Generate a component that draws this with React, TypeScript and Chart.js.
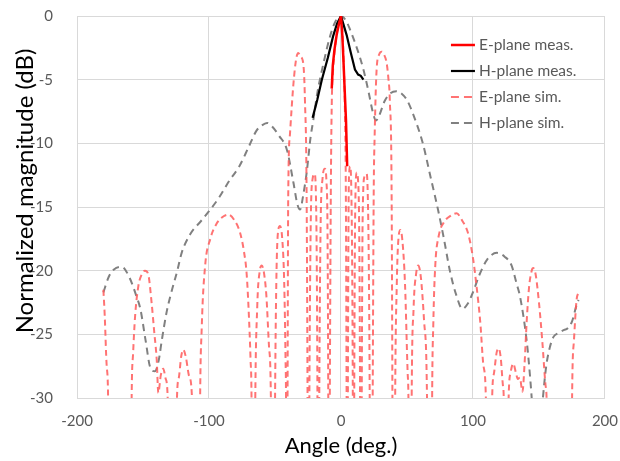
import React, { useEffect, useRef } from "react";
import { Chart, registerables } from "chart.js";

Chart.register(...registerables);

// Axis settings
const xMin = -200;
const xMax = 200;
const xStep = 100;
const yMin = -30;
const yMax = 0;
const yStep = 5;
const xTitle = "Angle (deg.)";
const yTitle = "Normalized magnitude (dB)";

const seriesLabels = ["E-plane meas.", "H-plane meas.", "E-plane sim.", "H-plane sim."];

// E-plane measured
const eMeasAngle = [-7, -6.2, -5, -3.3, -1.5, 0, 1, 1.8, 2.8, 3.8, 4.7];
const eMeasDb = [-5.7, -3.9, -2.7, -1.5, -0.6, 0, -1.5, -3.3, -5.8, -8.2, -11.8];

// H-plane measured
const hMeasAngle = [-21.5, -18, -14.5, -10, -6, -3, 0, 2, 4.3, 7.5, 10.6, 13, 15, 17];
const hMeasDb = [-8, -6.6, -5, -3.3, -1.6, -0.6, 0, -0.7, -1.5, -2.9, -4.2, -4.6, -4.7, -5];

// E-plane simulated
const eSimAngle = [
  -180, -179, -177.5, -176.3, -175.8,
  -159.3, -158.7, -157.5, -156, -153.5, -151, -148.5, -146, -143.4, -141.5, -139.6, -138.4, -136.5, -134.6, -132.8, -131, -130.4,
  -125, -124.5, -123, -121, -119.5, -117.5, -115, -112.5, -111.8,
  -107.5, -106.8, -105.5, -103, -99, -94.2, -90, -85.4, -81, -76.5, -73.5, -71.5, -70, -68.5, -67.7, -67.2,
  -65.7, -65, -63.5, -61.5, -60, -58.3, -56.5, -54.5, -53, -52.5,
  -50.7, -50, -49, -47.5, -46.2, -44.5, -43, -42, -41.6, -41.3,
  -41, -40.5, -40, -38.6, -36, -34, -32.4, -30.5, -28.5, -27.3, -26, -25.3, -24.9,
  -24.5, -24, -23, -21.5, -20, -19, -18.3, -17.8, -17.4,
  -17, -16.5, -15.5, -14, -12.2, -11, -10.2, -9.6, -9.3,
  -9, -8.5, -7.7, -7, -6, -4.5, -3, -1.5, 0, 1, 2, 3, 3.7, 4.3, 4.7,
  4.9, 5.2, 5.7, 6.3, 7, 7.8, 8.5, 9, 9.3,
  9.6, 10, 10.7, 11.9, 13, 13.9, 14.5, 14.9,
  15.3, 15.7, 16.4, 17.8, 19.5, 20.5, 21.3, 21.8, 22.2,
  23.5, 24, 24.8, 25.5, 27, 29, 30.8, 32.5, 34.6, 36, 37, 38.4, 39, 39.4,
  40.5, 41, 42.3, 43.7, 45, 46.5, 48.5, 50.5, 51.2, 51.7,
  53, 53.5, 55, 57, 58.5, 60.5, 63, 65.3, 66,
  68.5, 69, 70, 71.5, 74, 78, 83, 87.6, 92, 96.4, 100, 102.8, 105.5, 108, 110, 110.7,
  113.5, 114.3, 116, 118, 119.5, 121, 122.7, 123.5, 124,
  126, 126.8, 128.5, 130.5, 132.5, 134, 135.5, 137.5, 139, 140.7, 142.5, 144.5, 145.7, 147.5, 150, 152.5, 155, 156, 156.8,
  174.5, 175, 176.5, 178.5, 180,
];
const eSimDb = [
  -21.5, -23.5, -27.5, -31, -45,
  -45, -31, -26.5, -23.6, -21.2, -20.3, -20, -20.3, -22.6, -24.8, -27, -29.6, -28.2, -27.7, -28.5, -31, -45,
  -45, -31, -28.5, -26.7, -26.2, -26.8, -28.3, -31, -45,
  -45, -31, -24.5, -19.7, -17.5, -16.3, -15.8, -15.6, -16, -17, -18.5, -20.2, -23, -27, -31, -45,
  -45, -31, -23, -20, -19.6, -20.2, -22, -26, -31, -45,
  -45, -31, -21, -16.8, -16.5, -17.5, -21, -27, -31, -45,
  -45, -31, -14.5, -9.2, -5.3, -3.4, -2.9, -3.2, -3.8, -6.6, -14.5, -31, -45,
  -45, -31, -17, -12.8, -12.4, -14, -20, -31, -45,
  -45, -31, -17, -12.8, -12, -13, -17, -31, -45,
  -45, -31, -14, -7, -4.3, -2.5, -1.2, -0.3, 0, -1, -3.5, -7.5, -14, -31, -45,
  -45, -31, -16, -12.2, -11.8, -13.5, -20, -31, -45,
  -45, -31, -16, -12.3, -13, -18, -31, -45,
  -45, -31, -16, -12.6, -12.4, -15, -22, -31, -45,
  -45, -31, -14, -9.5, -4.2, -3, -2.8, -3, -3.7, -5, -6.6, -14.5, -31, -45,
  -45, -31, -21, -17.3, -16.8, -17.6, -21, -28, -31, -45,
  -45, -31, -23, -20.2, -19.6, -20.5, -24, -31, -45,
  -45, -31, -24, -19.5, -17.3, -16.2, -15.7, -15.5, -16.1, -17.1, -19, -21.3, -24, -27.5, -31, -45,
  -45, -31, -28, -26.4, -26.1, -26.8, -29, -31, -45,
  -45, -31, -28, -27.3, -28, -28.5, -28.4, -29.5, -27.5, -24, -21.3, -20, -19.8, -20.3, -22.5, -25.5, -29, -31, -45,
  -45, -31, -25.5, -22.3, -21.7,
];

// H-plane simulated
const hSimAngle = [
  -180, -176, -172, -166, -160, -155, -152, -148, -144.5, -141, -138, -135.8, -132, -128, -124, -120.7,
  -114, -106, -99, -92, -85, -77, -70, -64, -60, -56, -52, -47, -41, -36, -33, -31, -28.5, -26, -23, -21,
  -18, -13, -8, -4, 0, 4, 7, 12, 17, 21, 24, 26.5, 29, 33, 37, 42, 46, 50, 55, 62, 68, 73.5, 78, 82.5,
  87, 92, 96, 100, 105, 111, 118, 124, 129.3, 133, 135.6, 140.7, 143, 144.5, 146, 149, 151.5, 153,
  155.5, 158.3, 161, 164.6, 168, 172, 175, 178.5, 180,
];
const hSimDb = [
  -21.7, -20.5, -19.9, -19.7, -20.6, -22, -23, -25.5, -27.6, -27.9, -27, -25.5, -23.2, -21.5, -20, -18.6,
  -17.1, -16.1, -15.2, -14.2, -13, -11.8, -10.3, -9, -8.6, -8.4, -8.7, -9.4, -10.5, -13.1, -14.8, -15.2, -14, -12.3, -9.5, -8.2,
  -6.1, -3.6, -1.5, -0.4, 0, -0.4, -1.1, -2.5, -4.2, -6, -7.5, -8.2, -7.8, -6.7, -6.1, -5.9, -6.1, -6.6, -7.8, -10, -12.7, -15.2, -17.5, -20,
  -21.8, -23, -22.6, -21.7, -20.3, -19.1, -18.6, -18.9, -19.6, -21, -22, -25.5, -28, -30, -32.5, -34, -32, -30,
  -27.5, -26, -25.2, -24.9, -24.7, -24.5, -24, -22.7, -22.3,
];

const toPoints = (xs: number[], ys: number[]) => xs.map((x, i) => ({ x, y: ys[i] }));

// Legend drawn inside the plot area (top right), like the original
const insideLegend = {
  id: "insideLegend",
  afterDraw(chart: any) {
    const { ctx, chartArea } = chart;
    const x0 = chartArea.right - 154;
    let y = chartArea.top + 29;
    chart.data.datasets.forEach((ds: any) => {
      ctx.save();
      ctx.strokeStyle = ds.borderColor;
      ctx.lineWidth = ds.borderWidth;
      ctx.setLineDash(ds.legendDash || []);
      ctx.beginPath();
      ctx.moveTo(x0, y);
      ctx.lineTo(x0 + 24, y);
      ctx.stroke();
      ctx.setLineDash([]);
      ctx.fillStyle = "#595959";
      ctx.font = "15.5px Lato";
      ctx.textBaseline = "middle";
      ctx.textAlign = "left";
      ctx.fillText(ds.label, x0 + 28, y);
      ctx.restore();
      y += 26;
    });
  },
};

// Vertical axis title, placed slightly above the plot centre as in the original
const yAxisTitle = {
  id: "yAxisTitle",
  afterDraw(chart: any) {
    const { ctx, chartArea } = chart;
    ctx.save();
    ctx.translate(25, (chartArea.top + chartArea.bottom) / 2 - 16);
    ctx.rotate(-Math.PI / 2);
    ctx.fillStyle = "#000000";
    ctx.font = "24px Lato";
    ctx.textAlign = "center";
    ctx.textBaseline = "middle";
    ctx.fillText(yTitle, 0, 0);
    ctx.restore();
  },
};

export default function App() {
  const canvasRef = useRef<HTMLCanvasElement | null>(null);

  useEffect(() => {
    if (!canvasRef.current) return;
    Chart.defaults.font.family = "Lato";
    const chart = new Chart(canvasRef.current, {
      type: "line",
      data: {
        datasets: [
          {
            label: seriesLabels[0],
            data: toPoints(eMeasAngle, eMeasDb),
            borderColor: "#ff0000",
            borderWidth: 2.5,
            pointRadius: 0,
            tension: 0,
          } as any,
          {
            label: seriesLabels[1],
            data: toPoints(hMeasAngle, hMeasDb),
            borderColor: "#000000",
            borderWidth: 2.2,
            pointRadius: 0,
            tension: 0,
          },
          {
            label: seriesLabels[2],
            data: toPoints(eSimAngle, eSimDb),
            borderColor: "rgba(255,90,90,0.85)",
            borderWidth: 2,
            borderDash: [6, 4],
            legendDash: [8, 5],
            pointRadius: 0,
            cubicInterpolationMode: "monotone",
          },
          {
            label: seriesLabels[3],
            data: toPoints(hSimAngle, hSimDb),
            borderColor: "#808080",
            borderWidth: 2,
            borderDash: [7, 5],
            legendDash: [8, 5],
            pointRadius: 0,
            cubicInterpolationMode: "monotone",
          },
        ],
      },
      options: {
        animation: false,
        responsive: false,
        devicePixelRatio: 1,
        layout: { padding: { top: 16, right: 15, left: 0, bottom: 0 } },
        plugins: {
          legend: { display: false },
          tooltip: { enabled: false },
        },
        scales: {
          x: {
            type: "linear",
            min: xMin,
            max: xMax,
            ticks: { stepSize: xStep, color: "#595959", font: { size: 15 }, padding: 2 },
            grid: { color: "#d9d9d9", drawTicks: true, tickLength: 12, tickColor: "rgba(0,0,0,0)" },
            border: { display: false },
            title: {
              display: true,
              text: xTitle,
              color: "#000000",
              font: { size: 22 },
              padding: { top: 0, bottom: 2 },
            },
            afterFit: (scale: any) => {
              scale.height = 63;
            },
          },
          y: {
            type: "linear",
            min: yMin,
            max: yMax,
            ticks: { stepSize: yStep, color: "#595959", font: { size: 15 }, padding: 3 },
            grid: { color: "#d9d9d9", drawTicks: true, tickLength: 21, tickColor: "rgba(0,0,0,0)" },
            border: { display: false },
            title: { display: false, text: yTitle },
            afterFit: (scale: any) => {
              scale.width = 77;
            },
          },
        },
      },
      plugins: [insideLegend, yAxisTitle],
    });
    return () => chart.destroy();
  }, []);

  return (
    <div style={{ position: "absolute", left: 0, top: 0, width: 620, height: 461 }}>
      <canvas ref={canvasRef} width={620} height={461} />
    </div>
  );
}
